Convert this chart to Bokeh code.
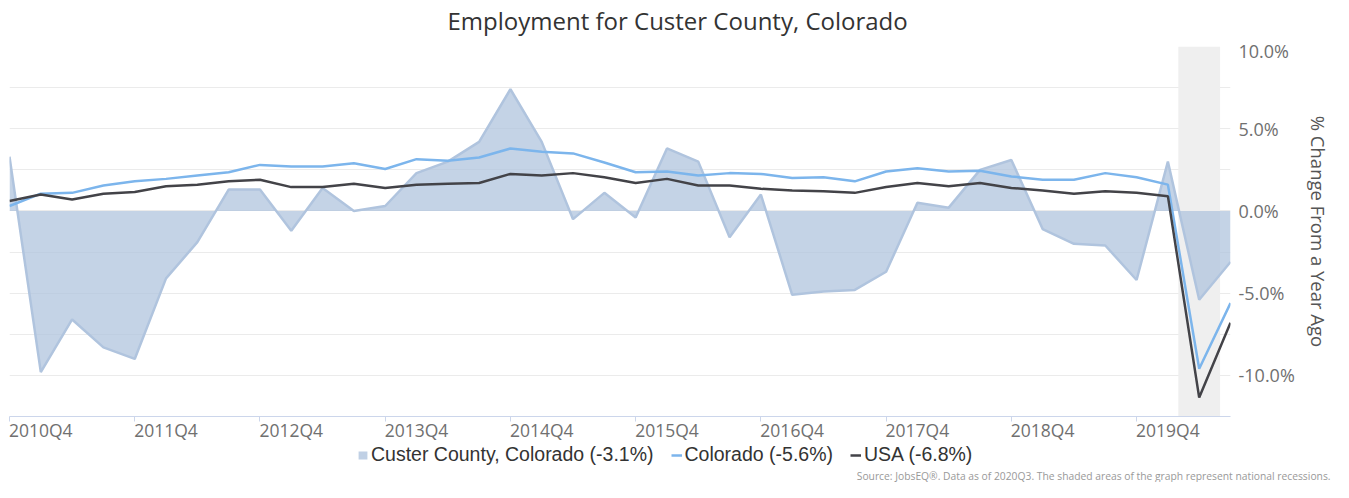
from bokeh.plotting import figure
from bokeh.layouts import column
from bokeh.models import (ColumnDataSource, FixedTicker, Legend, LegendItem,
                          BoxAnnotation, Title, Range1d, PrintfTickFormatter)
from bokeh.embed import file_html
from bokeh.resources import INLINE

# ---------------- data ----------------
quarters = ["2010Q4",
            "2011Q1", "2011Q2", "2011Q3", "2011Q4",
            "2012Q1", "2012Q2", "2012Q3", "2012Q4",
            "2013Q1", "2013Q2", "2013Q3", "2013Q4",
            "2014Q1", "2014Q2", "2014Q3", "2014Q4",
            "2015Q1", "2015Q2", "2015Q3", "2015Q4",
            "2016Q1", "2016Q2", "2016Q3", "2016Q4",
            "2017Q1", "2017Q2", "2017Q3", "2017Q4",
            "2018Q1", "2018Q2", "2018Q3", "2018Q4",
            "2019Q1", "2019Q2", "2019Q3", "2019Q4",
            "2020Q1", "2020Q2", "2020Q3"]

county = [3.3, -9.8, -6.6, -8.3, -9.0, -4.1, -1.9, 1.3, 1.3, -1.2,
          1.4, 0.0, 0.3, 2.3, 3.0, 4.2, 7.4, 4.2, -0.5, 1.1,
          -0.4, 3.8, 3.0, -1.6, 1.0, -5.1, -4.9, -4.8, -3.7, 0.5,
          0.2, 2.5, 3.1, -1.1, -2.0, -2.1, -4.2, 3.0, -5.4, -3.1]

colorado = [0.3, 1.05, 1.1, 1.55, 1.8, 1.95, 2.15, 2.35, 2.8, 2.7,
            2.7, 2.9, 2.55, 3.15, 3.05, 3.25, 3.8, 3.6, 3.5, 2.95,
            2.35, 2.4, 2.15, 2.3, 2.25, 2.0, 2.05, 1.8, 2.4, 2.6,
            2.4, 2.45, 2.1, 1.9, 1.9, 2.3, 2.05, 1.6, -9.6, -5.6]

usa = [0.6, 1.0, 0.7, 1.05, 1.15, 1.5, 1.6, 1.8, 1.9, 1.45,
       1.45, 1.65, 1.4, 1.6, 1.65, 1.7, 2.25, 2.15, 2.3, 2.05,
       1.7, 1.95, 1.55, 1.55, 1.35, 1.25, 1.2, 1.1, 1.45, 1.7,
       1.5, 1.7, 1.4, 1.25, 1.05, 1.2, 1.1, 0.9, -11.35, -6.8]

series_names = ["Custer County, Colorado", "Colorado", "USA"]
xtick_labels = ["2010Q4", "2011Q4", "2012Q4", "2013Q4", "2014Q4",
                "2015Q4", "2016Q4", "2017Q4", "2018Q4", "2019Q4"]
ytick_values = [-10, -5, 0, 5, 10]
ygrid_values = [-12.5, -10, -7.5, -5, -2.5, 0, 2.5, 5, 7.5, 10]
recession = ("2020-02", "2020-06")

title_text = "Employment for Custer County, Colorado"
y_title = "% Change From a Year Ago"
source_text = ("Source: JobsEQ\u00ae. Data as of 2020Q3. "
               "The shaded areas of the graph represent national recessions.")

# ---------------- styles ----------------
AREA_COLOR = "#b0c4de"
CO_COLOR = "#7cb5ec"
US_COLOR = "#434348"
FONT = "Open Sans"
NAN = float("nan")

W = 1333
H_TOP = 38
H_MAIN = 406
H_LEG = 38

# ---------------- helpers ----------------
def qpos(q):
    return int(q[:4]) + (int(q[5]) - 1) / 4.0

def mpos(m):
    yy, mm = m.split("-")
    return int(yy) + (int(mm) - 1) / 12.0

def strip(height):
    f = figure(width=W, height=height, output_backend="svg", toolbar_location=None,
               x_range=Range1d(0, 1), y_range=Range1d(0, 1),
               x_axis_location=None, y_axis_location=None,
               min_border_left=0, min_border_right=0, min_border_top=0,
               min_border_bottom=0, outline_line_color=None,
               background_fill_color="white", border_fill_color="white")
    f.grid.visible = False
    return f

x = [qpos(q) for q in quarters]

# ---------------- title strip ----------------
p0 = strip(H_TOP)
p0.title.text = title_text
p0.title.align = "left"
p0.title.offset = 438
p0.title.standoff = 2
p0.title.text_font = FONT
p0.title.text_font_size = "24px"
p0.title.text_font_style = "normal"
p0.title.text_color = "#333333"

# ---------------- main chart ----------------
p = figure(width=W, height=H_MAIN, output_backend="svg", toolbar_location=None,
           x_range=Range1d(x[0], x[-1]), y_range=Range1d(-12.5, 10),
           x_axis_location="below", y_axis_location="right",
           min_border_left=9, min_border_right=92, min_border_top=8,
           min_border_bottom=25, outline_line_color=None,
           background_fill_color="white", border_fill_color="white")

# grid
p.xgrid.visible = False
p.ygrid.ticker = FixedTicker(ticks=ygrid_values)
p.ygrid.grid_line_color = "#ebebeb"
p.ygrid.grid_line_width = 1

# x axis: minor ticks mark Q4 positions, labels sit to the right of each tick
xa = p.xaxis[0]
tick_pos = [qpos(t) for t in xtick_labels]
label_pos = [int(round(t + 0.25)) for t in tick_pos]
xa.ticker = FixedTicker(ticks=label_pos, minor_ticks=tick_pos)
xa.major_label_overrides = {lp: lab for lp, lab in zip(label_pos, xtick_labels)}
xa.axis_line_color = "#ccd6eb"
xa.axis_line_width = 1
xa.major_tick_line_color = None
xa.major_tick_out = 5
xa.major_tick_in = 0
xa.minor_tick_line_color = "#ccd6eb"
xa.minor_tick_out = 5
xa.minor_tick_in = 0
xa.major_label_standoff = -4
xa.major_label_text_font = FONT
xa.major_label_text_font_size = "17.5px"
xa.major_label_text_color = "#707070"

# y axis on the right
ya = p.yaxis[0]
ya.ticker = FixedTicker(ticks=ytick_values)
ya.formatter = PrintfTickFormatter(format="%.1f%%")
ya.axis_line_color = None
ya.major_tick_line_color = None
ya.minor_tick_line_color = None
ya.major_tick_in = 0
ya.major_tick_out = 0
ya.major_label_standoff = 8
ya.major_label_text_font = FONT
ya.major_label_text_font_size = "18px"
ya.major_label_text_color = "#707070"
ya.axis_label = y_title
ya.axis_label_text_font = FONT
ya.axis_label_text_font_style = "normal"
ya.axis_label_text_font_size = "18.5px"
ya.axis_label_text_color = "#555555"
ya.axis_label_standoff = 8

# recession band
band = BoxAnnotation(left=mpos(recession[0]), right=mpos(recession[1]),
                     fill_color="#efefef", fill_alpha=1.0, line_color=None,
                     level="underlay")
p.add_layout(band)

src = ColumnDataSource(dict(x=x, county=county, colorado=colorado, usa=usa))

p.varea(x="x", y1=0, y2="county", source=src,
        fill_color=AREA_COLOR, fill_alpha=0.75)
p.line("x", "county", source=src, line_color=AREA_COLOR, line_width=2.5)
p.line("x", "colorado", source=src, line_color=CO_COLOR, line_width=2.5)
p.line("x", "usa", source=src, line_color=US_COLOR, line_width=2.5)

# ---------------- legend + source strip ----------------
p2 = strip(H_LEG)

# legend swatches (carry only the series' styles; nothing is drawn)
sw_area = p2.varea(x=[NAN], y1=[NAN], y2=[NAN], fill_color=AREA_COLOR, fill_alpha=0.8)
sw_co = p2.line(x=[NAN], y=[NAN], line_color=CO_COLOR, line_width=2.5)
sw_us = p2.line(x=[NAN], y=[NAN], line_color=US_COLOR, line_width=2.5)

labels = ["%s (%.1f%%)" % (n, s[-1]) for n, s in zip(series_names, [county, colorado, usa])]
legend = Legend(items=[LegendItem(label=labels[0], renderers=[sw_area]),
                       LegendItem(label=labels[1], renderers=[sw_co]),
                       LegendItem(label=labels[2], renderers=[sw_us])],
                orientation="horizontal", location=(348, 0),
                padding=0, margin=0, spacing=17, label_standoff=3,
                glyph_width=11, glyph_height=10, label_height=20,
                label_text_font="Liberation Sans",
                label_text_font_size="19.5px", label_text_color="#333333",
                background_fill_alpha=0, border_line_color=None)
p2.add_layout(legend)

source = Title(text=source_text, align="right", offset=-100, standoff=0,
               text_font=FONT, text_font_size="10.3px", text_font_style="normal",
               text_color="#999999")
p2.add_layout(source, "below")

layout = column(p0, p, p2, spacing=0)
open("out.html", "w").write(file_html(layout, INLINE))
